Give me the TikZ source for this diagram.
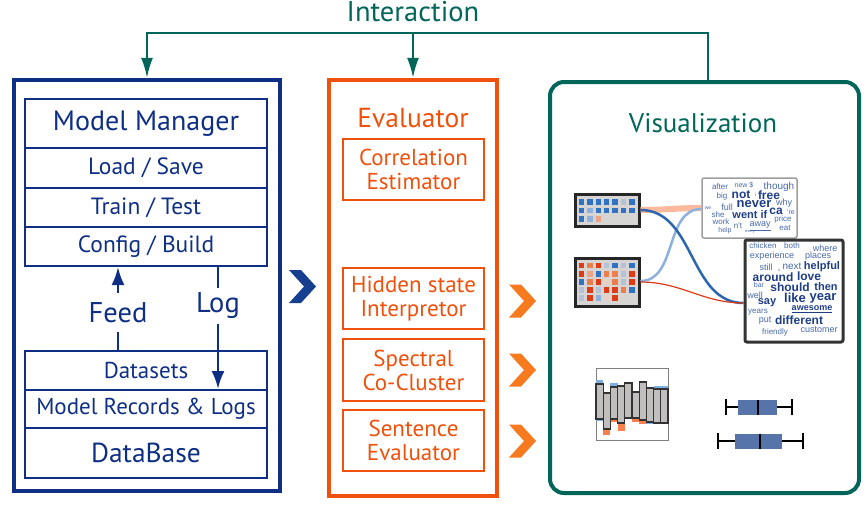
\documentclass[tikz,border=0pt]{standalone}
\usepackage{fontspec}
\setmainfont{PT Sans}
\newfontfamily\cloudfont{Liberation Sans}
\usetikzlibrary{arrows.meta}
\definecolor{mmblue}{HTML}{0E2F84}
\definecolor{evorange}{HTML}{EF500C}
\definecolor{vizgreen}{HTML}{00665A}
\definecolor{chevblue}{HTML}{173F8F}
\definecolor{chevorange}{HTML}{F77A1E}
\definecolor{hb}{HTML}{3072C4}
\definecolor{hl}{HTML}{8DB0DD}
\definecolor{hg}{HTML}{B4C2D9}
\definecolor{ho}{HTML}{EE7D4E}
\definecolor{hp}{HTML}{EDA383}
\definecolor{hr}{HTML}{DF3A16}
\definecolor{he}{HTML}{E6CFC3}
\definecolor{hbg}{HTML}{D7D4D4}
\definecolor{wordlt}{HTML}{4869AC}
\definecolor{worddk}{HTML}{1E3D86}
\definecolor{boxfill}{HTML}{5673AA}
\definecolor{barfill}{HTML}{C0BFBD}
\definecolor{capblue}{HTML}{7FAEE3}
\definecolor{caporange}{HTML}{F9804A}
\begin{document}
\begin{tikzpicture}[x=1pt,y=-1pt,
  mmrow/.style={draw=mmblue,line width=2pt,minimum width=242pt,text=mmblue,inner sep=0pt},
  mmlabel/.style={text=mmblue,font=\fontsize{28.5}{30}\selectfont,inner xsep=2pt},
  mmline/.style={draw=mmblue,line width=2.5pt},
  evbox/.style={draw=evorange,line width=2.5pt,minimum width=141pt,minimum height=61pt,text=evorange,align=center,font=\fontsize{23}{24}\selectfont},
  link/.style={draw=vizgreen,line width=2pt},
  tip/.style={-{Latex[length=20pt,width=12pt]}},
  cloudword/.style={inner sep=0pt,text=wordlt,font=\cloudfont},
  cloudbold/.style={inner sep=0pt,text=worddk,font=\cloudfont\bfseries},
  heatmap/.style={fill=hbg,draw=black!85,line width=3pt,minimum width=64pt},
  bar/.style={fill=barfill,draw=black!80,line width=1.2pt}]
\useasboundingbox (0,0) rectangle (867,509);

\node(mmframe) at (147,285.5)[draw=mmblue,line width=4.5pt,minimum width=266pt,minimum height=411pt]{};
\node(evframe) at (413,288)[draw=evorange,line width=4.5pt,minimum width=168pt,minimum height=416pt]{};
\node(vizframe) at (704.5,287.5)[draw=vizgreen,line width=4pt,rounded corners=14pt,minimum width=309pt,minimum height=411pt]{};

\node(inter) at (413,12)[text=vizgreen,font=\fontsize{28.5}{30}\selectfont]{Interaction};
\coordinate(tap) at (708,33);
\draw[link,tip] (vizframe.north -| tap) -- (tap) -| (mmframe.north);
\draw[link,tip] (evframe.north |- tap) -- (evframe.north);

\node(manager) at (146,123.5)[mmrow,minimum height=49pt,font=\fontsize{28}{30}\selectfont]{Model Manager};
\node(load)    at (146,168)[mmrow,minimum height=40pt,font=\fontsize{23.5}{26}\selectfont]{Load / Save};
\node(train)   at (146,207.5)[mmrow,minimum height=39pt,font=\fontsize{23.5}{26}\selectfont]{Train / Test};
\node(config)  at (146,246.5)[mmrow,minimum height=39pt,font=\fontsize{23.5}{26}\selectfont]{Config / Build};
\node(data)    at (146,370.5)[mmrow,minimum height=39pt,font=\fontsize{23}{26}\selectfont]{Datasets};
\node(records) at (146,409)[mmrow,minimum height=38pt,font=\fontsize{23}{26}\selectfont]{Model Records \& Logs};
\node(dbase)   at (146,453)[mmrow,minimum height=50pt,font=\fontsize{27.5}{30}\selectfont]{DataBase};

\node(feed) at (118,312.5)[mmlabel,inner ysep=9.5pt]{Feed};
\node(log)  at (218,306)[mmlabel,inner ysep=5pt]{Log};
\draw[mmline] (data.north -| feed) -- (feed);
\draw[mmline,-{Latex[length=18pt,width=13pt]}] (feed) -- (config.south -| feed);
\draw[mmline] (config.south -| log) -- (log);
\draw[mmline,-{Latex[length=18pt,width=13pt]}] (log) -- (records.north -| log);

\fill[chevblue] (289,270) -- (301,270) -- (316,286.5) -- (301,303) -- (289,303) -- (304,286.5) -- cycle;

\node(evtitle) at (413,118)[text=evorange,font=\fontsize{27.5}{30}\selectfont]{Evaluator};
\node(corr)     at (413.5,169.5)[evbox]{Correlation\\Estimator};
\node(hidden)   at (413.5,298.5)[evbox]{Hidden state\\Interpretor};
\node(spectral) at (413.5,370)[evbox,minimum height=62pt]{Spectral\\Co-Cluster};
\node(sentence) at (413.5,440.5)[evbox]{Sentence\\Evaluator};

\foreach \cy in {301,370,441}
  \fill[chevorange] (509,{\cy-16.5}) -- ++(12,0) -- ++(15,16.5) -- ++(-15,16.5) -- ++(-12,0) -- ++(15,-16.5) -- cycle;

\node(viztitle) at (703,123)[text=vizgreen,font=\fontsize{27}{30}\selectfont]{Visualization};

\node(hmA) at (607,210)[heatmap,minimum height=32pt]{};
\node(hmB) at (607,282)[heatmap,minimum height=48pt]{};
\foreach \y/\cols in {202/{hb,hb,hb,hb,hb,hg,hb},210.5/{hb,hl,hb,hb,hb,hb,hb},219/{hb,hl,hp},
  265.7/{hr,ho,hr,hg,hb,hg,hb},274/{hr,hp,hb,ho,ho,hg,hr},282/{hb,ho,hr,he,ho,hg,hr},
  290/{hg,hr,hg,hr,hr,ho,hb},298/{hg,hr,hl,he,hr}}
  \foreach \col [count=\c] in \cols
    \fill[\col] ({581.5+8.4*(\c-1)-2.75},{\y-2.75}) rectangle ++(5.5,5.5);

\node(cloudA) at (749.5,208)[draw=black!38,line width=1.5pt,rounded corners=2pt,minimum width=95pt,minimum height=60pt]{};
\node(cloudB) at (794,291)[draw=black!80,line width=3pt,rounded corners=2pt,minimum width=98pt,minimum height=102pt]{};

\draw[line width=6pt,color=caporange!55] (hmA.east) to[out=0,in=180] (cloudA.west);
\draw[line width=2.5pt,color=hl] ([yshift=1pt]hmB.east) to[out=0,in=180] ([yshift=-1pt]cloudA.west);
\draw[line width=2.5pt,color=hb!90!black] (hmA.east) to[out=0,in=180] ([yshift=-12pt]cloudB.west);
\draw[line width=1.2pt,color=hr] (hmB.east) to[out=0,in=180] ([yshift=-12pt]cloudB.west);

\foreach \x/\y/\s/\w [count=\i] in {720/187/8/after,744/185/7/new \$,779/187/10/though,722/196/8/big,756/195/5/i,
  784/203/9/why,708/208/5/we,727/207/9/full,791/212/7/'re,718/215/8/she,783/219/8/price,
  721/222/8/work,738/226/8/n't,760/226/9/\underline{away},785/228/8/eat,725/231/7/help,750/232/4/every}
  \node(wa\i) at (\x,\y)[cloudword]{\fontsize{\s}{\s}\selectfont\w};
\foreach \x/\y/\s/\w [count=\i] in {741/195/12/not,769/195/12/free,754/204/13/never,776/211/12/ca,745/215/11/went,764/215/11/if}
  \node(wb\i) at (\x,\y)[cloudbold]{\fontsize{\s}{\s}\selectfont\w};
\foreach \x/\y/\s/\w [count=\i] in {763/246/8/chicken,792/246/8/both,825/248/9/where,772/256/9/experience,818/256/9/places,
  766/267/9/still,779/271/3/m,792/266/10/next,759/285/7/bar,755/295/9/well,758/312/8/years,765/321/9/put,
  775/332/8/friendly,819/330/9/customer}
  \node(wc\i) at (\x,\y)[cloudword]{\fontsize{\s}{\s}\selectfont\w};
\foreach \x/\y/\s/\w [count=\i] in {822/267/11/helpful,773/277/12/around,809/276/12/love,790/287/12/should,826/287/11/then,
  795/298/13/like,823/298/13/year,767/303/11/say,812/309/9/\underline{awesome},799/320/12/different}
  \node(wd\i) at (\x,\y)[cloudbold]{\fontsize{\s}{\s}\selectfont\w};

\node(pcframe) at (632,404)[draw=black!50,line width=1pt,minimum width=72pt,minimum height=72pt]{};
\foreach \i/\a/\b in {1/380/384,1/418/421,3/383/387,8/419/424,9/386/389,9/416/423,10/386/389}
  \fill[capblue] ({596+7.2*(\i-1)},\a) rectangle ++(7.2,{\b-\a});
\foreach \i/\a/\b in {2/429/435,2/392/394,3/419/422,4/423/431,4/386/389,6/418/422,7/382/386,7/420/424}
  \fill[caporange] ({596+7.2*(\i-1)},\a) rectangle ++(7.2,{\b-\a});
\foreach \i/\t/\b in {1/384/419,2/393/429,3/387/419,4/386/423,5/383/418,6/392/418,7/382/420,8/388/422,9/389/423,10/389/423}
  \draw[bar] ({596+7.2*(\i-1)},\t) rectangle ++(7.2,{\b-\t});

\foreach \y/\wl/\bl/\md/\br/\wr in {407/726/738/758/777/792,441/718/735/760/782/803}{
  \draw[line width=1.2pt] (\wl,\y) -- (\wr,\y);
  \draw[line width=1.5pt] (\wl,\y-8) -- (\wl,\y+8) (\wr,\y-8) -- (\wr,\y+8);
  \fill[boxfill] (\bl,\y-7.5) rectangle (\br,\y+7.5);
  \draw[line width=1.8pt] (\md,\y-7.5) -- (\md,\y+7.5);
}
\end{tikzpicture}
\end{document}
